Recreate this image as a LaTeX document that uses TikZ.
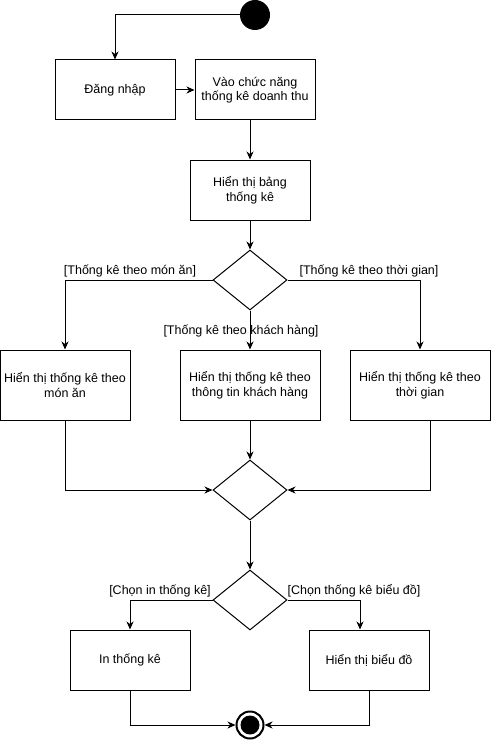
\documentclass[tikz,border=0pt]{standalone}
\usepackage{fontspec}
\setmainfont{Liberation Sans}
\usetikzlibrary{positioning,arrows.meta,shapes.geometric}

\begin{document}
\begin{tikzpicture}[
    x=1pt, y=-1pt,
    font={\fontsize{12.5}{14.6}\selectfont},
    line width=1pt,
    >={Stealth[length=8pt,width=7pt,inset=2.5pt]},
    base/.style={draw,rectangle,align=center,inner sep=1pt,minimum width=120pt,minimum height=60pt},
    cond/.style={draw,diamond,inner sep=0pt,minimum width=74pt,minimum height=60pt},
    txt/.style={align=center,inner sep=0pt},
    startnode/.style={circle,fill=black,inner sep=0pt,minimum size=30pt},
    endnode/.style={circle,draw,line width=2pt,inner sep=0pt,minimum size=27pt,
        path picture={\fill (path picture bounding box.center) circle (9.5pt);}},
]
    \useasboundingbox (0,0) rectangle (491,741);

    \node[startnode] at (255,15) (start) {};

    \node[base] at (115,90) (login) {Đăng nhập};
    \node[base] at (255,90) (func) {Vào chức năng\\thống kê doanh thu};
    \node[base] at (250,190) (table) {Hiển thị bảng\\thống kê};

    \node[cond] at (250,280) (choose) {};
    \node[txt] at (130,271) (lblfood) {[Thống kê theo món ăn]};
    \node[txt] at (369,271) (lbltime) {[Thống kê theo thời gian]};
    \node[txt] at (241,331) (lblcust) {[Thống kê theo khách hàng]};

    \node[base,minimum width=130pt,minimum height=70pt] at (65,385) (byfood) {Hiển thị thống kê theo\\món ăn};
    \node[base,minimum width=140pt,minimum height=70pt] at (250,385) (bycust) {Hiển thị thống kê theo\\thông tin khách hàng};
    \node[base,minimum width=140pt,minimum height=70pt] at (420,385) (bytime) {Hiển thị thống kê theo\\thời gian};

    \node[cond] at (250,490) (merge) {};
    \node[cond] at (250,600) (output) {};
    \node[txt] at (160,591) (lblprint) {[Chọn in thống kê]};
    \node[txt] at (354,591) (lblchart) {[Chọn thống kê biểu đồ]};

    \node[base] at (130,660) (print) {In thống kê};
    \node[base] at (369,660) (chart) {Hiển thị biểu đồ};

    \node[endnode] at (250,725) (end) {};

    \draw[->](start.west) -| (login.north);
    \draw[->](login) to (func);
    \draw[->](func.south -| table.north) to (table.north);
    \draw[->](table.south) to (choose.north);
    \draw[->](choose.west) -| (byfood.north);
    \draw[->](choose.south) to (bycust.north);
    \draw[->](choose.east) -| (bytime.north);
    \draw[->](byfood.south) |- (merge.west);
    \draw[->](bycust.south) to (merge.north);
    \draw[->]([xshift=10pt]bytime.south) |- (merge.east);
    \draw[->](merge.south) to (output.north);
    \draw[->](output.west) -| (print.north);
    \draw[->](output.east) -| ([xshift=-9pt]chart.north);
    \draw[->](print.south) |- (end.west);
    \draw[->](chart.south) |- (end.east);

\end{tikzpicture}
\end{document}
